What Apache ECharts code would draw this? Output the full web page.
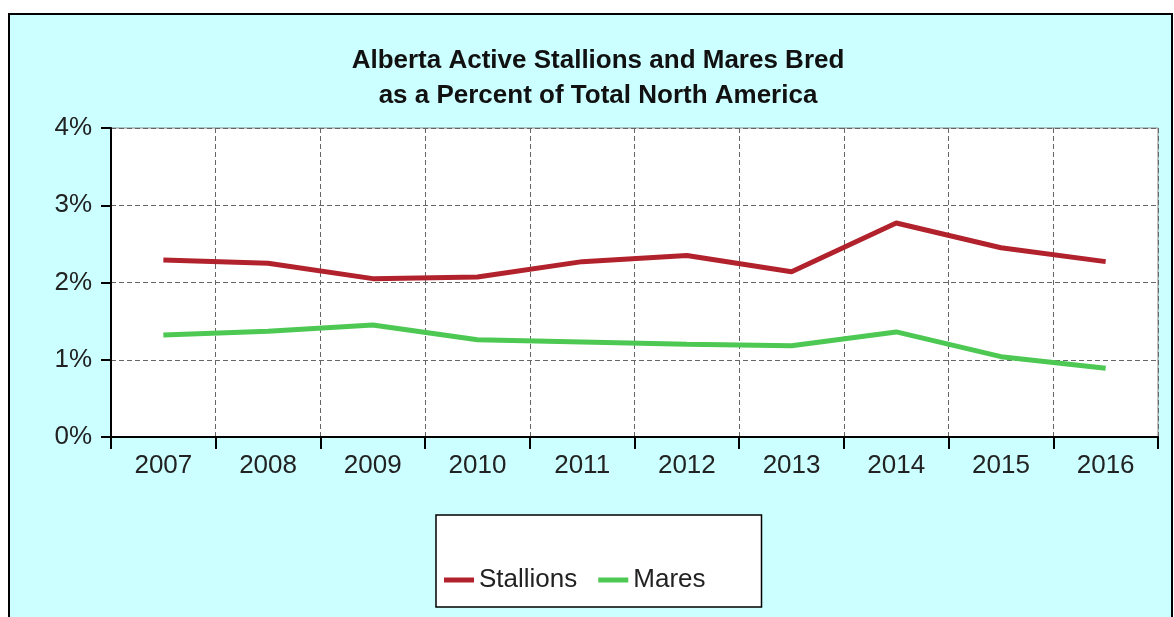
<!DOCTYPE html>
<html>
<head>
<meta charset="utf-8">
<script src="https://cdn.jsdelivr.net/npm/echarts@6/dist/echarts.min.js"></script>
<style>
  html, body { margin: 0; padding: 0; background: #fff; }
  #chart { width: 1174px; height: 617px; }
</style>
</head>
<body>
<div id="chart"></div>
<script>
const years = ["2007", "2008", "2009", "2010", "2011", "2012", "2013", "2014", "2015", "2016"];
const stallions = [2.29, 2.25, 2.05, 2.07, 2.27, 2.35, 2.14, 2.77, 2.45, 2.27];
const mares = [1.32, 1.37, 1.45, 1.26, 1.23, 1.20, 1.18, 1.36, 1.04, 0.89];
const yTicks = [0, 1, 2, 3, 4];

const chart = echarts.init(document.getElementById("chart"));
const font = "Liberation Sans, Arial, sans-serif";

const option = {
  backgroundColor: "#fff",
  animation: false,
  textStyle: { fontFamily: font },
  graphic: [
    {
      type: "rect",
      z: -10,
      shape: { x: 9, y: 14, width: 1163, height: 640 },
      style: { fill: "#CCFFFF", stroke: "#000", lineWidth: 2 }
    }
  ],
  title: {
    text: "Alberta Active Stallions and Mares Bred\nas a Percent of Total North America",
    left: 593,
    textAlign: "center",
    top: 38,
    textStyle: {
      fontFamily: font,
      fontSize: 26,
      fontWeight: "bold",
      lineHeight: 35,
      color: "#111"
    }
  },
  grid: {
    left: 111,
    right: 16,
    top: 128,
    bottom: 180,
    show: true,
    backgroundColor: "#fff",
    borderColor: "#888",
    borderWidth: 1
  },
  legend: {
    left: 436,
    top: 515,
    orient: "horizontal",
    padding: [52, 56, 14, 8],
    backgroundColor: "#fff",
    borderColor: "#000",
    borderWidth: 1.5,
    borderRadius: 0,
    icon: "rect",
    itemWidth: 30,
    itemHeight: 5,
    itemGap: 21,
    textStyle: { fontFamily: font, fontSize: 26, color: "#222" },
    data: ["Stallions", "Mares"]
  },
  xAxis: {
    type: "category",
    data: years,
    boundaryGap: true,
    axisLine: { lineStyle: { color: "#000", width: 2 } },
    axisTick: { show: true, length: 12, alignWithLabel: false, lineStyle: { color: "#000", width: 2 } },
    axisLabel: { margin: 16, fontSize: 26, color: "#222", fontFamily: font },
    splitLine: { show: true, lineStyle: { color: "#666", type: [5, 3], width: 1 } }
  },
  yAxis: {
    type: "value",
    min: yTicks[0],
    max: yTicks[yTicks.length - 1],
    interval: 1,
    axisLine: { show: true, lineStyle: { color: "#000", width: 2 } },
    axisTick: { show: true, length: 10, lineStyle: { color: "#000", width: 2 } },
    axisLabel: { margin: 19, fontSize: 26, color: "#222", fontFamily: font, formatter: "{value}%" },
    splitLine: { show: true, lineStyle: { color: "#666", type: [5, 3], width: 1 } }
  },
  series: [
    {
      name: "Stallions",
      type: "line",
      data: stallions,
      symbol: "none",
      smooth: false,
      color: "#B2222C",
      lineStyle: { width: 5, color: "#B2222C" }
    },
    {
      name: "Mares",
      type: "line",
      data: mares,
      symbol: "none",
      smooth: false,
      color: "#4CC853",
      lineStyle: { width: 5, color: "#4CC853" }
    }
  ]
};

chart.setOption(option);
</script>
</body>
</html>
